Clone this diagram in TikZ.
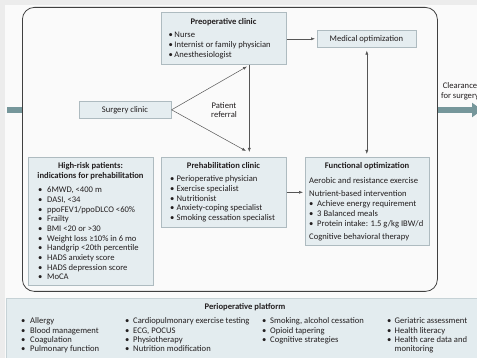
\documentclass[tikz,border=0pt]{standalone}
\usepackage{fontspec}
\setmainfont{Carlito}
\usetikzlibrary{arrows.meta}

\definecolor{ink}{HTML}{231F20}
\definecolor{boxfill}{HTML}{E5EDF0}
\definecolor{boxline}{HTML}{AEBBC0}
\definecolor{platfill}{HTML}{E3ECEF}
\definecolor{platline}{HTML}{C6D2D6}
\definecolor{linkgray}{HTML}{555555}
\definecolor{flowteal}{HTML}{76979B}
\definecolor{pagegray}{HTML}{ECECEC}
\definecolor{panelwhite}{HTML}{FAFAFA}

\newcommand{\bul}[1][8pt]{\makebox[#1][l]{\textbullet}}

\begin{document}
\begin{tikzpicture}[x=1pt,y=-1pt,>={Latex[length=4pt,width=3pt]},
    font=\fontsize{8.6}{9.7}\selectfont,text=ink,
    box/.style={draw=boxline,fill=boxfill,line width=0.6pt,anchor=north west,inner sep=0pt},
    txt/.style={anchor=base west,inner sep=0pt},
    ttl/.style={anchor=base,inner sep=0pt,font=\fontsize{8.6}{9.7}\selectfont\bfseries},
    link/.style={->,draw=linkgray,line width=0.5pt},
    flow/.style={draw=flowteal,line width=6pt}]

                % page and panel
                \fill [pagegray] (0,0) rectangle (477,358);
                \fill [panelwhite] (5,5) rectangle (477,358);
                \useasboundingbox (0,0) rectangle (477,358);

                \node[draw=black!75,line width=0.8pt,rounded corners=12pt,fill=panelwhite,
                      minimum width=415pt,minimum height=284pt,anchor=north west] (frame) at (22,7) {};

                % boxes
                \node[box,minimum width=125pt,minimum height=52pt] (preop) at (161,12) {};
                \node[box,minimum width=99pt,minimum height=17pt] (medical) at (317,30) {};
                \node[box,minimum width=92pt,minimum height=17pt] (surgery) at (79,101) {};
                \node[box,minimum width=125pt,minimum height=70pt] (prehab) at (161,157) {};
                \node[box,minimum width=124pt,minimum height=88pt] (functional) at (305,157) {};
                \node[box,minimum width=125pt,minimum height=128pt] (highrisk) at (28,157) {};
                \node[draw=platline,fill=platfill,line width=0.6pt,anchor=north west,
                      minimum width=480pt,minimum height=70pt] (platform) at (6,298) {};

                % preoperative clinic
                \node[ttl] (preop-t) at (223.5,24.7) {Preoperative clinic};
                \foreach \lbl [count=\i] in {Nurse, Internist or family physician, Anesthesiologist}
                    \node[txt] (preop-\i) at (168.5,28+9.7*\i) {\bul[5.8pt]\lbl};

                \node[anchor=base,inner sep=0pt] (medical-t) at (366.5,41.7) {Medical optimization};
                \node[anchor=base,inner sep=0pt] (surgery-t) at (125,112.7) {Surgery clinic};
                \node[align=center,inner sep=0pt] (referral) at (224,110) {Patient\\referral};
                \node[align=center,inner sep=0pt] (clearance) at (460,91) {Clearance\\for surgery};

                % prehabilitation clinic
                \node[ttl] (prehab-t) at (223.5,168.7) {Prehabilitation clinic};
                \foreach \lbl [count=\i] in {Perioperative physician, Exercise specialist, Nutritionist,
                        Anxiety-coping specialist, Smoking cessation specialist}
                    \node[txt] (prehab-\i) at (170,172+9.7*\i) {\bul[6.5pt]\lbl};

                % high-risk patients
                \node[ttl] (highrisk-t1) at (90.5,168.7) {High-risk patients:};
                \node[ttl] (highrisk-t2) at (90.5,178.4) {indications for prehabilitation};
                \foreach \lbl [count=\i] in {{6MWD, <400 m}, {DASI, <34}, ppoFEV1/ppoDLCO <60\%, Frailty,
                        BMI <20 or >30, Weight loss ≥10\% in 6 mo, Handgrip <20th percentile,
                        HADS anxiety score, HADS depression score, MoCA}
                    \node[txt] (highrisk-\i) at (38,183+9.7*\i) {\bul[9pt]\lbl};

                % functional optimization
                \node[ttl] (functional-t) at (367,168.7) {Functional optimization};
                \node[txt] (aerobic) at (309,183.4) {Aerobic and resistance exercise};
                \node[txt] (nutrient) at (309,197) {Nutrient-based intervention};
                \foreach \lbl [count=\i] in {Achieve energy requirement, 3 Balanced meals,
                        Protein intake: 1.5 g/kg IBW/d}
                    \node[txt] (nutrient-\i) at (309,197+9.7*\i) {\bul[8pt]\lbl};
                \node[txt] (cbt) at (309,239.7) {Cognitive behavioral therapy};

                % perioperative platform
                \node[ttl] (platform-t) at (245,309.7) {Perioperative platform};
                \foreach \lbl [count=\i] in {Allergy, Blood management, Coagulation, Pulmonary function}
                    \node[txt] (plat1-\i) at (21,314.3+9.4*\i) {\bul[9pt]\lbl};
                \foreach \lbl [count=\i] in {Cardiopulmonary exercise testing, {ECG, POCUS}, Physiotherapy,
                        Nutrition modification}
                    \node[txt] (plat2-\i) at (125,314.3+9.4*\i) {\bul[8pt]\lbl};
                \foreach \lbl [count=\i] in {{Smoking, alcohol cessation}, Opioid tapering, Cognitive strategies}
                    \node[txt] (plat3-\i) at (262,314.3+9.4*\i) {\bul[8pt]\lbl};
                \foreach \lbl [count=\i] in {Geriatric assessment, Health literacy, Health care data and}
                    \node[txt] (plat4-\i) at (387,314.3+9.4*\i) {\bul[7.5pt]\lbl};
                \node[txt] (plat4-4) at (394.5,351.9) {monitoring};

                % connectors
                \coordinate (refup) at (247,66.5);
                \coordinate (refdown) at (246,151);
                \draw[link] (surgery.east) -- (refup);
                \draw[link] (surgery.east) -- (refdown);
                \draw[link,shorten >=5pt] ([xshift=25.5pt]preop.south) -- ([xshift=25.5pt]prehab.north);
                \draw[link,shorten >=2pt] (preop.east |- medical.west) -- (medical.west);
                \draw[link,<->,shorten <=3pt,shorten >=3pt] (medical.south) -- (medical.south |- functional.north);
                \draw[link,shorten >=2pt] (prehab.east) -- (prehab.east -| functional.west);

                % flow through the pathway
                \coordinate (inlet) at (7,110);
                \coordinate (outlet) at (482,110);
                \draw[flow] (inlet) -- (inlet -| frame.west);
                \draw[flow,-{Triangle[length=10pt,width=14pt]}] (frame.east |- inlet) -- (outlet);
            \end{tikzpicture}
\end{document}
